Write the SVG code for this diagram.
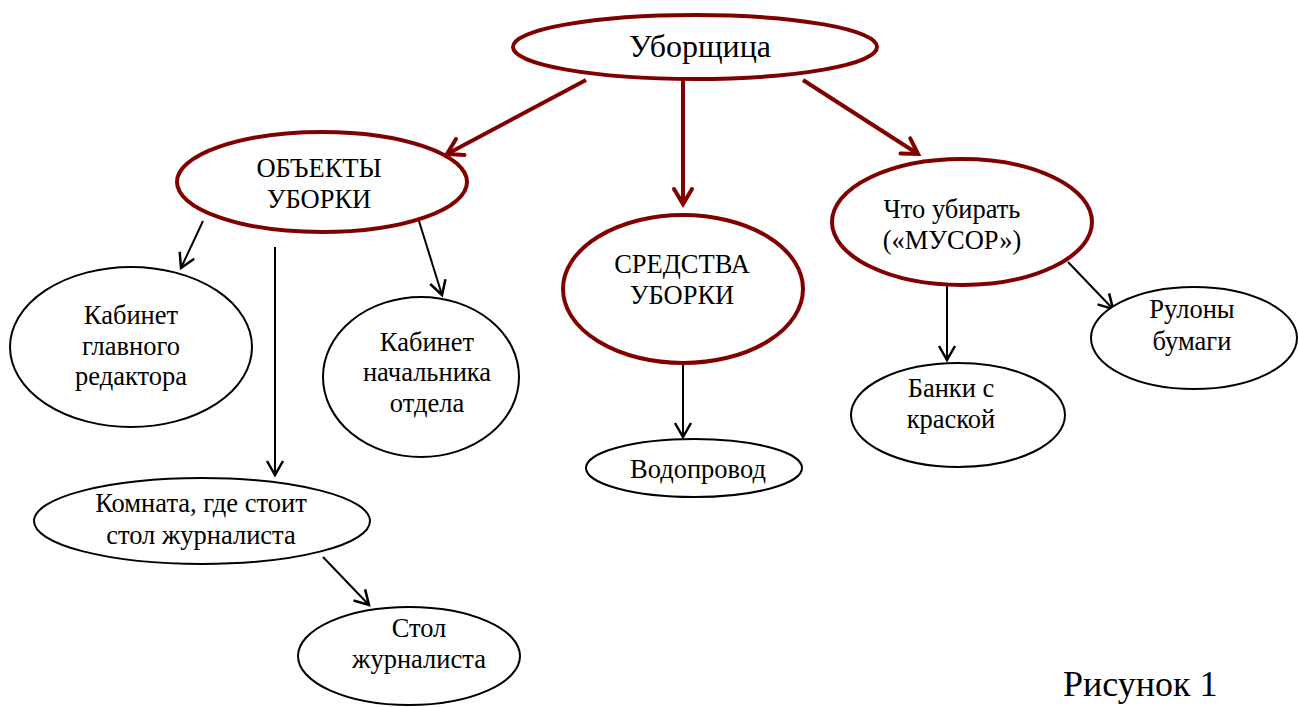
<svg xmlns="http://www.w3.org/2000/svg" width="1298" height="707" viewBox="0 0 1298 707">
<style>
.bg{fill:#ffffff}
.main{fill:#ffffff;stroke:#800000;stroke-width:4}
.sub{fill:#ffffff;stroke:#000000;stroke-width:2}
text{font-family:"Liberation Serif","Times New Roman",serif;fill:#000;text-anchor:middle;font-size:26.5px}
.big{font-size:32px}
.cap{font-size:36px;text-anchor:start}
.rl{stroke:#800000;stroke-width:4;fill:none;marker-end:url(#ar)}
.bl{stroke:#000;stroke-width:2;fill:none;marker-end:url(#ab)}
</style>
<defs>
<marker id="ar" markerUnits="userSpaceOnUse" viewBox="-18 -12 22 24" refX="0" refY="0" markerWidth="22" markerHeight="24" orient="auto">
<path d="M-15,-9 L0,0 L-15,9" fill="none" stroke="#800000" stroke-width="4" stroke-linecap="round" stroke-linejoin="miter"/>
</marker>
<marker id="ab" markerUnits="userSpaceOnUse" viewBox="-18 -12 22 24" refX="0" refY="0" markerWidth="22" markerHeight="24" orient="auto">
<path d="M-14,-8 L0,0 L-14,8" fill="none" stroke="#000" stroke-width="2.5"/>
</marker>
</defs>
<rect class="bg" x="0" y="0" width="1298" height="707"/>
<g id="connectors">
<line class="rl" x1="586" y1="80" x2="447" y2="154"/>
<line class="rl" x1="683" y1="80" x2="683" y2="204"/>
<line class="rl" x1="803" y1="80" x2="918" y2="154"/>
<line class="bl" x1="203" y1="221" x2="181" y2="268"/>
<line class="bl" x1="275" y1="247" x2="275" y2="475"/>
<line class="bl" x1="419" y1="221" x2="442" y2="295"/>
<line class="bl" x1="683" y1="364" x2="683" y2="437"/>
<line class="bl" x1="947" y1="286" x2="947" y2="360"/>
<line class="bl" x1="1068" y1="262" x2="1113" y2="309"/>
<line class="bl" x1="323" y1="557" x2="369" y2="605"/>
</g>
<g id="n-uborshchitsa">
<ellipse class="main" cx="695" cy="47" rx="182" ry="32"/>
<text class="big" x="700" y="57">Уборщица</text>
</g>
<g id="n-obekty">
<ellipse class="main" cx="322" cy="182" rx="145" ry="50"/>
<text x="319" y="177">ОБЪЕКТЫ</text>
<text x="319" y="208">УБОРКИ</text>
</g>
<g id="n-sredstva">
<ellipse class="main" cx="683" cy="289" rx="120" ry="74"/>
<text x="682" y="273">СРЕДСТВА</text>
<text x="682" y="304">УБОРКИ</text>
</g>
<g id="n-chto">
<ellipse class="main" cx="962" cy="222" rx="130" ry="63"/>
<text x="952" y="218">Что убирать</text>
<text x="952" y="249">(«МУСОР»)</text>
</g>
<g id="n-glavred">
<ellipse class="sub" cx="131" cy="347" rx="121" ry="80"/>
<text x="131" y="324">Кабинет</text>
<text x="131" y="355">главного</text>
<text x="131" y="385">редактора</text>
</g>
<g id="n-nachalnik">
<ellipse class="sub" cx="421" cy="377" rx="98" ry="80"/>
<text x="427" y="351">Кабинет</text>
<text x="427" y="381">начальника</text>
<text x="427" y="412">отдела</text>
</g>
<g id="n-komnata">
<ellipse class="sub" cx="202" cy="521" rx="168" ry="43"/>
<text x="201" y="512">Комната, где стоит</text>
<text x="201" y="544">стол журналиста</text>
</g>
<g id="n-stol">
<ellipse class="sub" cx="409" cy="656" rx="111" ry="49"/>
<text x="419" y="637">Стол</text>
<text x="419" y="668">журналиста</text>
</g>
<g id="n-vodoprovod">
<ellipse class="sub" cx="694" cy="468" rx="108" ry="29"/>
<text x="698" y="478">Водопровод</text>
</g>
<g id="n-banki">
<ellipse class="sub" cx="958" cy="415" rx="107" ry="52"/>
<text x="951" y="397">Банки с</text>
<text x="951" y="428">краской</text>
</g>
<g id="n-rulony">
<ellipse class="sub" cx="1194" cy="338" rx="103" ry="51"/>
<text x="1192" y="318">Рулоны</text>
<text x="1192" y="350">бумаги</text>
</g>
<text class="cap" x="1063" y="696">Рисунок 1</text>
</svg>
